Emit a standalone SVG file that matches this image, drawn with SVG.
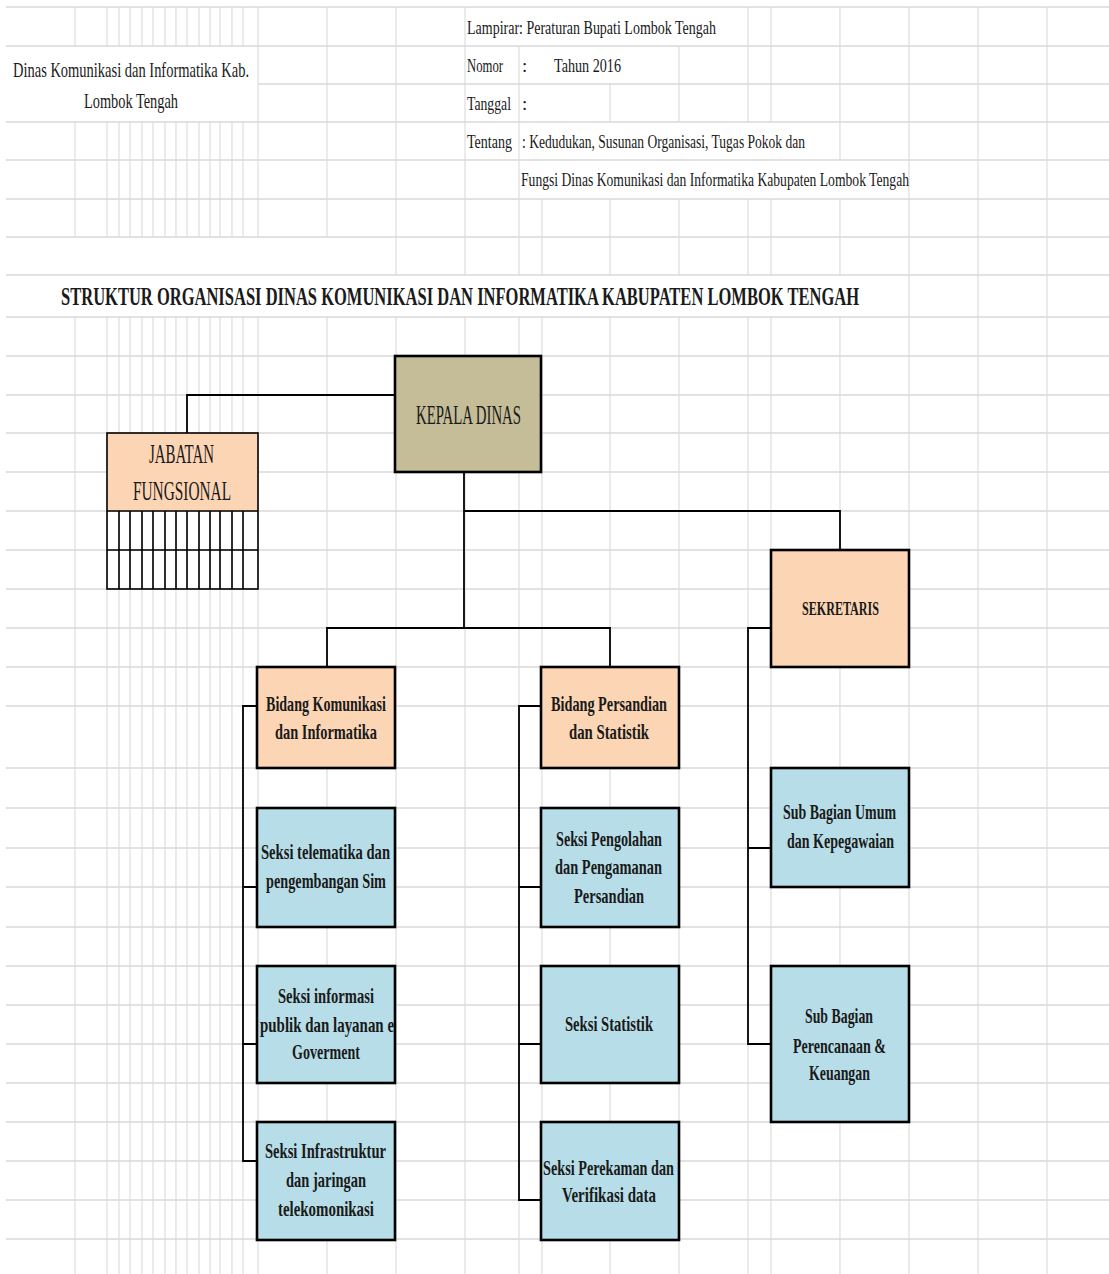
<svg xmlns="http://www.w3.org/2000/svg" width="1109" height="1274" viewBox="0 0 1109 1274">
<defs>
<style>
.gh{stroke:#d9d9d9;stroke-width:1.6;fill:none}
.gv{stroke:#dadada;stroke-width:1.1;fill:none}
.con{stroke:#000;stroke-width:1.8;fill:none}
.box{stroke:#000;stroke-width:2.6}
.peach{fill:#fcd5b4}
.blue{fill:#b7dee8}
.khaki{fill:#c4bd97}
.t{font-family:'Liberation Serif','DejaVu Serif',serif;fill:#1a1a1a}
.hdr{font-size:19px}
.big{font-size:22px}
.ttl{font-size:26px;font-weight:bold}
.bx{font-size:21px;font-weight:bold}
.cell{stroke:#000;stroke-width:1.6;fill:none}
</style>
<clipPath id="clipInfo"><rect x="258" y="966" width="136" height="117"/></clipPath>
</defs>
<rect x="0" y="0" width="1109" height="1274" fill="#fff"/>
<g id="grid">
<path class="gh" d="M6,7H1109M6,46H1109M258,84H1109M6,122H1109M6,160H1109M6,199H1109M6,237H1109M6,275H1109M6,317H1109M6,356H1109M6,395H1109M6,433H1109M6,472H1109M6,511H1109M6,550H1109M6,589H1109M6,628H1109M6,667H1109M6,706H1109M6,768H1109M6,808H1109M6,848H1109M6,887H1109M6,927H1109M6,966H1109M6,1005H1109M6,1044H1109M6,1083H1109M6,1122H1109M6,1161H1109M6,1200H1109M6,1239H1109"/>
<path class="gv" d="M75,7V46M75,122V237M75,317V1274
M107,7V46M107,122V237M107,317V1274
M119,7V46M119,122V237M119,317V1274
M130,7V46M130,122V237M130,317V1274
M142,7V46M142,122V237M142,317V1274
M153,7V46M153,122V237M153,317V1274
M165,7V46M165,122V237M165,317V1274
M176,7V46M176,122V237M176,317V1274
M187,7V46M187,122V237M187,317V1274
M199,7V46M199,122V237M199,317V1274
M210,7V46M210,122V237M210,317V1274
M220,7V46M220,122V237M220,317V1274
M232,7V46M232,122V237M232,317V1274
M243,7V46M243,122V237M243,317V1274
M258,7V237M258,317V1274
M327,7V237M327,317V1274
M396,7V275M396,317V1274
M465,7V275M465,317V1274
M519,46V275M519,317V1274
M542,199V275M542,317V1274
M610,84V122M610,199V275M610,317V1274
M679,46V122M679,199V275M679,317V1274
M748,7V122M748,199V275M748,317V1274
M771,7V122M771,199V275M771,317V1274
M840,7V160M840,199V275M840,317V1274
M909,7V1274M978,7V1274M1047,7V1274"/>
</g>
<g id="header">
<text class="t big" x="13" y="77" textLength="236" lengthAdjust="spacingAndGlyphs">Dinas Komunikasi dan Informatika  Kab.</text>
<text class="t big" x="84" y="108" textLength="94" lengthAdjust="spacingAndGlyphs">Lombok Tengah</text>
<text class="t hdr" x="467" y="34" textLength="249" lengthAdjust="spacingAndGlyphs">Lampirar: Peraturan  Bupati Lombok Tengah</text>
<text class="t hdr" x="467" y="72" textLength="36" lengthAdjust="spacingAndGlyphs">Nomor</text>
<text class="t hdr" x="522" y="72">:</text>
<text class="t hdr" x="554" y="72" textLength="67" lengthAdjust="spacingAndGlyphs">Tahun 2016</text>
<text class="t hdr" x="467" y="110" textLength="44" lengthAdjust="spacingAndGlyphs">Tanggal</text>
<text class="t hdr" x="522" y="110">:</text>
<text class="t hdr" x="467" y="148" textLength="45" lengthAdjust="spacingAndGlyphs">Tentang</text>
<text class="t hdr" x="522" y="148" textLength="283" lengthAdjust="spacingAndGlyphs">: Kedudukan, Susunan Organisasi, Tugas Pokok dan</text>
<text class="t hdr" x="521" y="186" textLength="388" lengthAdjust="spacingAndGlyphs">Fungsi Dinas  Komunikasi dan Informatika Kabupaten Lombok Tengah</text>
<text class="t ttl" x="61" y="305" textLength="798" lengthAdjust="spacingAndGlyphs">STRUKTUR ORGANISASI DINAS KOMUNIKASI DAN INFORMATIKA  KABUPATEN LOMBOK TENGAH</text>
</g>
<g id="connectors">
<path class="con" d="M395,395H187V433"/>
<path class="con" d="M464,472V628"/>
<path class="con" d="M464,511H840V550"/>
<path class="con" d="M327,667V628H610V667"/>
<path class="con" d="M257,706H243V1161H257M243,887H257M243,1044H257"/>
<path class="con" d="M541,706H519V1200H541M519,887H541M519,1044H541"/>
<path class="con" d="M771,628H748V1044H771M748,848H771"/>
</g>
<g id="node-kepala">
<rect class="box khaki" x="395" y="356" width="146" height="116" stroke-width="3.4"/>
<text class="t" x="416" y="424" font-size="28" textLength="105" lengthAdjust="spacingAndGlyphs">KEPALA DINAS</text>
</g>
<g id="node-jabatan">
<rect class="peach" x="107" y="433" width="151" height="78"/>
<rect class="cell" x="107" y="433" width="151" height="156"/>
<path class="cell" d="M107,511H258M107,550H258M119,511V589M130,511V589M142,511V589M153,511V589M165,511V589M176,511V589M187,511V589M199,511V589M210,511V589M220,511V589M232,511V589M243,511V589"/>
<text class="t" x="149" y="463" font-size="27" textLength="65" lengthAdjust="spacingAndGlyphs">JABATAN</text>
<text class="t" x="133" y="500" font-size="27" textLength="98" lengthAdjust="spacingAndGlyphs">FUNGSIONAL</text>
</g>
<g id="node-sekretaris">
<rect class="box peach" x="771" y="550" width="138" height="117" stroke-width="3"/>
<text class="t" x="802" y="615" font-size="19" font-weight="bold" textLength="77" lengthAdjust="spacingAndGlyphs">SEKRETARIS</text>
</g>
<g id="node-bidang-kominfo">
<rect class="box peach" x="257" y="667" width="138" height="101"/>
<text class="t bx" x="266" y="711" textLength="120" lengthAdjust="spacingAndGlyphs">Bidang Komunikasi</text>
<text class="t bx" x="275" y="739" textLength="102" lengthAdjust="spacingAndGlyphs">dan Informatika</text>
</g>
<g id="node-bidang-persandian">
<rect class="box peach" x="541" y="667" width="138" height="101"/>
<text class="t bx" x="551" y="711" textLength="116" lengthAdjust="spacingAndGlyphs">Bidang Persandian</text>
<text class="t bx" x="569" y="739" textLength="80" lengthAdjust="spacingAndGlyphs">dan Statistik</text>
</g>
<g id="node-seksi-telematika">
<rect class="box blue" x="257" y="808" width="138" height="119"/>
<text class="t bx" x="261" y="859" textLength="129" lengthAdjust="spacingAndGlyphs">Seksi telematika dan</text>
<text class="t bx" x="266" y="888" textLength="120" lengthAdjust="spacingAndGlyphs">pengembangan Sim</text>
</g>
<g id="node-seksi-pengolahan">
<rect class="box blue" x="541" y="808" width="138" height="119"/>
<text class="t bx" x="556" y="846" textLength="106" lengthAdjust="spacingAndGlyphs">Seksi Pengolahan</text>
<text class="t bx" x="555" y="874" textLength="107" lengthAdjust="spacingAndGlyphs">dan Pengamanan</text>
<text class="t bx" x="574" y="903" textLength="70" lengthAdjust="spacingAndGlyphs">Persandian</text>
</g>
<g id="node-seksi-informasi">
<rect class="box blue" x="257" y="966" width="138" height="117"/>
<text class="t bx" x="278" y="1003" textLength="96" lengthAdjust="spacingAndGlyphs">Seksi informasi</text>
<text class="t bx" x="260" y="1032" textLength="139" lengthAdjust="spacingAndGlyphs" clip-path="url(#clipInfo)">publik dan layanan e-</text>
<text class="t bx" x="292" y="1059" textLength="68" lengthAdjust="spacingAndGlyphs">Goverment</text>
</g>
<g id="node-seksi-statistik">
<rect class="box blue" x="541" y="966" width="138" height="117"/>
<text class="t bx" x="565" y="1031" textLength="88" lengthAdjust="spacingAndGlyphs">Seksi Statistik</text>
</g>
<g id="node-seksi-infrastruktur">
<rect class="box blue" x="257" y="1122" width="138" height="118"/>
<text class="t bx" x="265" y="1158" textLength="121" lengthAdjust="spacingAndGlyphs">Seksi Infrastruktur</text>
<text class="t bx" x="286" y="1187" textLength="80" lengthAdjust="spacingAndGlyphs">dan jaringan</text>
<text class="t bx" x="278" y="1216" textLength="96" lengthAdjust="spacingAndGlyphs">telekomonikasi</text>
</g>
<g id="node-seksi-perekaman">
<rect class="box blue" x="541" y="1122" width="138" height="118"/>
<text class="t bx" x="543" y="1175" textLength="131" lengthAdjust="spacingAndGlyphs">Seksi Perekaman dan</text>
<text class="t bx" x="562" y="1202" textLength="94" lengthAdjust="spacingAndGlyphs">Verifikasi data</text>
</g>
<g id="node-subbag-umum">
<rect class="box blue" x="771" y="768" width="138" height="119"/>
<text class="t bx" x="783" y="819" textLength="113" lengthAdjust="spacingAndGlyphs">Sub Bagian Umum</text>
<text class="t bx" x="787" y="848" textLength="107" lengthAdjust="spacingAndGlyphs">dan Kepegawaian</text>
</g>
<g id="node-subbag-perencanaan">
<rect class="box blue" x="771" y="966" width="138" height="156"/>
<text class="t bx" x="805" y="1023" textLength="68" lengthAdjust="spacingAndGlyphs">Sub Bagian</text>
<text class="t bx" x="793" y="1053" textLength="93" lengthAdjust="spacingAndGlyphs">Perencanaan &amp;</text>
<text class="t bx" x="809" y="1080" textLength="61" lengthAdjust="spacingAndGlyphs">Keuangan</text>
</g>
</svg>
